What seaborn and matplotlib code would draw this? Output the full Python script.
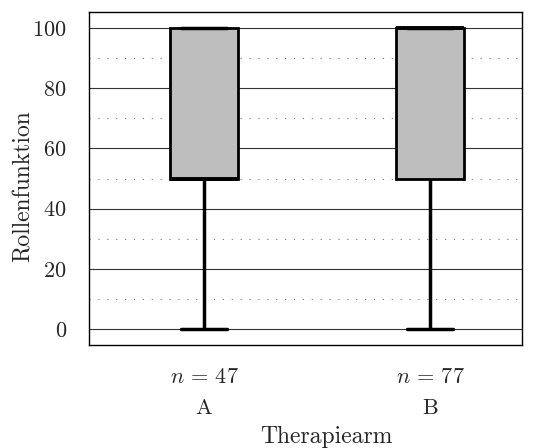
import matplotlib
matplotlib.use("Agg")
import matplotlib.pyplot as plt
import seaborn as sns
import pandas as pd
from matplotlib.ticker import MultipleLocator

# Five-number summaries (whisker low, Q1, median, Q3, whisker high)
groups = ["A", "B"]
counts = [47, 77]
whis_low = [0, 0]
q1 = [50, 50]
median = [50, 100]
q3 = [100, 100]
whis_high = [100, 100]

rows = []
for i, g in enumerate(groups):
    for v in (whis_low[i], q1[i], median[i], q3[i], whis_high[i]):
        rows.append({"Therapiearm": g, "Rollenfunktion": v})
df = pd.DataFrame(rows)

sns.set_theme(style="white")
plt.rcParams["font.family"] = ["serif"]
plt.rcParams["font.serif"] = ["cmr10", "DejaVu Serif"]
plt.rcParams["mathtext.fontset"] = "cm"
plt.rcParams["axes.unicode_minus"] = False
plt.rcParams["axes.formatter.use_mathtext"] = True

FS_TICK = 16
FS_LAB = 17

fig = plt.figure(figsize=(5.36, 4.48), dpi=100)
ax = fig.add_axes([0.166, 0.230, 0.808, 0.743])

sns.boxplot(data=df, x="Therapiearm", y="Rollenfunktion", order=groups,
            whis=(0, 100), width=0.30, color="#bebebe", saturation=1,
            linecolor="black", linewidth=2.0, fliersize=0,
            medianprops=dict(color="black", linewidth=2.8),
            whiskerprops=dict(color="black", linewidth=2.5),
            capprops=dict(color="black", linewidth=2.5),
            boxprops=dict(edgecolor="black", linewidth=2.0),
            capwidths=0.205,
            ax=ax, zorder=3)

ax.set_xlim(-0.509, 1.407)
ax.set_ylim(-5.3, 105.3)
ax.yaxis.set_major_locator(MultipleLocator(20))
ax.set_yticks([10, 30, 50, 70, 90], minor=True)
ax.grid(axis="y", which="major", color="#333333", linewidth=0.8, linestyle="-", zorder=0)
ax.grid(axis="y", which="minor", color="#777777", linewidth=0.8, linestyle=(0, (1, 7)), zorder=0)
ax.grid(axis="x", visible=False)
ax.set_axisbelow(True)

ax.set_xticks(range(len(groups)))
ax.set_xticklabels([f"$n\\,=\\,{c}$\n{g}" for g, c in zip(groups, counts)],
                   fontsize=FS_TICK, linespacing=1.75)
ax.tick_params(axis="x", length=0, pad=16)
ax.tick_params(axis="y", which="both", length=0, labelsize=FS_TICK, pad=16)
ax.set_xlabel("Therapiearm", fontsize=FS_LAB)
ax.set_ylabel("Rollenfunktion", fontsize=FS_LAB)
ax.xaxis.set_label_coords(0.547, -0.243)
ax.yaxis.set_label_coords(-0.125, 0.477)

for s in ax.spines.values():
    s.set_visible(True)
    s.set_color("black")
    s.set_linewidth(1.0)

fig.savefig("out.png", dpi=100)
